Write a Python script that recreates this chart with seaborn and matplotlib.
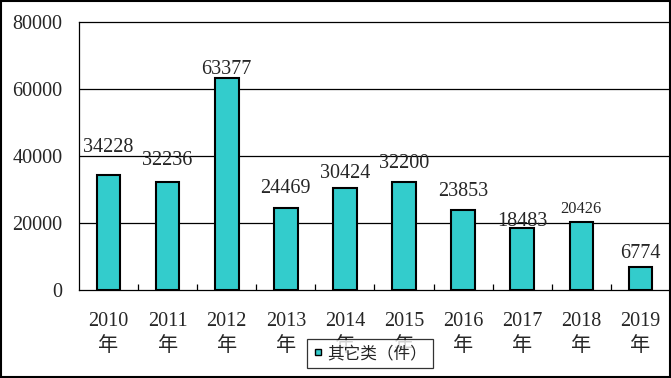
import matplotlib
matplotlib.use("Agg")
import matplotlib.pyplot as plt
import seaborn as sns
import pandas as pd
from matplotlib.lines import Line2D
from matplotlib.patches import Rectangle

years = ["2010", "2011", "2012", "2013", "2014", "2015", "2016", "2017", "2018", "2019"]
counts = [34228, 32236, 63377, 24469, 30424, 32200, 23853, 18483, 20426, 6774]
series_name = "其它类（件）"

# label offsets above bar tops (points), as placed in the original
label_offsets = [16.5, 12, 2.5, 11, 7, 10, 10, 1.5, 6.5, 6.5]
label_sizes = [14.5, 14.5, 14.5, 14.5, 14.5, 14.5, 14.5, 14.5, 11.8, 14.5]

sns.set_style("white")
plt.rcParams["font.family"] = ["Liberation Serif", "Noto Sans CJK SC"]

df = pd.DataFrame({"year": [y + "\n年" for y in years], "count": counts})

teal = "#33CCCC"

fig = plt.figure(figsize=(6.71, 3.78), dpi=100)
ax = fig.add_axes([0.1177, 0.2328, 0.8808, 0.709])

sns.barplot(data=df, x="year", y="count", color=teal, saturation=1,
    width=0.4, edgecolor="black", linewidth=1.5, ax=ax)

ax.set_ylim(0, 80000)
ax.set_xlim(-0.5, len(years) - 0.5)
ax.set_yticks([0, 20000, 40000, 60000, 80000])
ax.set_yticklabels(["0", "20000", "40000", "60000", "80000"])
ax.set_xlabel("")
ax.set_ylabel("")

for v in [20000, 40000, 60000]:
    ax.axhline(v, color="black", linewidth=0.9, zorder=0)

for s in ax.spines.values():
    s.set_color("black")
    s.set_linewidth(0.9)

ax.tick_params(axis="y", length=0, pad=12, labelsize=14.5)
ax.tick_params(axis="x", which="major", length=0, pad=16, labelsize=14.5)
ax.set_xticks([i + 0.5 for i in range(len(years) - 1)], minor=True)
ax.tick_params(axis="x", which="minor", direction="in", length=4.2,
    width=0.9, color="black", bottom=True)
for lbl in ax.get_xticklabels():
    lbl.set_linespacing(1.4)

for i, v in enumerate(counts):
    ax.annotate(str(v), xy=(i, v), xytext=(0, label_offsets[i]),
        textcoords="offset points", ha="center", va="baseline",
        fontsize=label_sizes[i])

handle = Line2D([], [], linestyle="none", marker="s", markersize=4.5,
    markerfacecolor=teal, markeredgecolor="black", markeredgewidth=1)
leg = fig.legend([handle], [series_name], loc="center",
    bbox_to_anchor=(0.551, 0.064), frameon=True, fancybox=False,
    edgecolor="black", handlelength=0.6, handletextpad=0.25,
    borderpad=0.35, borderaxespad=0,
    prop={"family": ["Noto Sans CJK SC"], "size": 12})
leg.get_frame().set_linewidth(0.9)

fig.patches.append(Rectangle((0.001, 0.003), 0.997, 0.994,
    transform=fig.transFigure, fill=False, edgecolor="black", linewidth=1.5))

fig.savefig("out.png", dpi=100)
